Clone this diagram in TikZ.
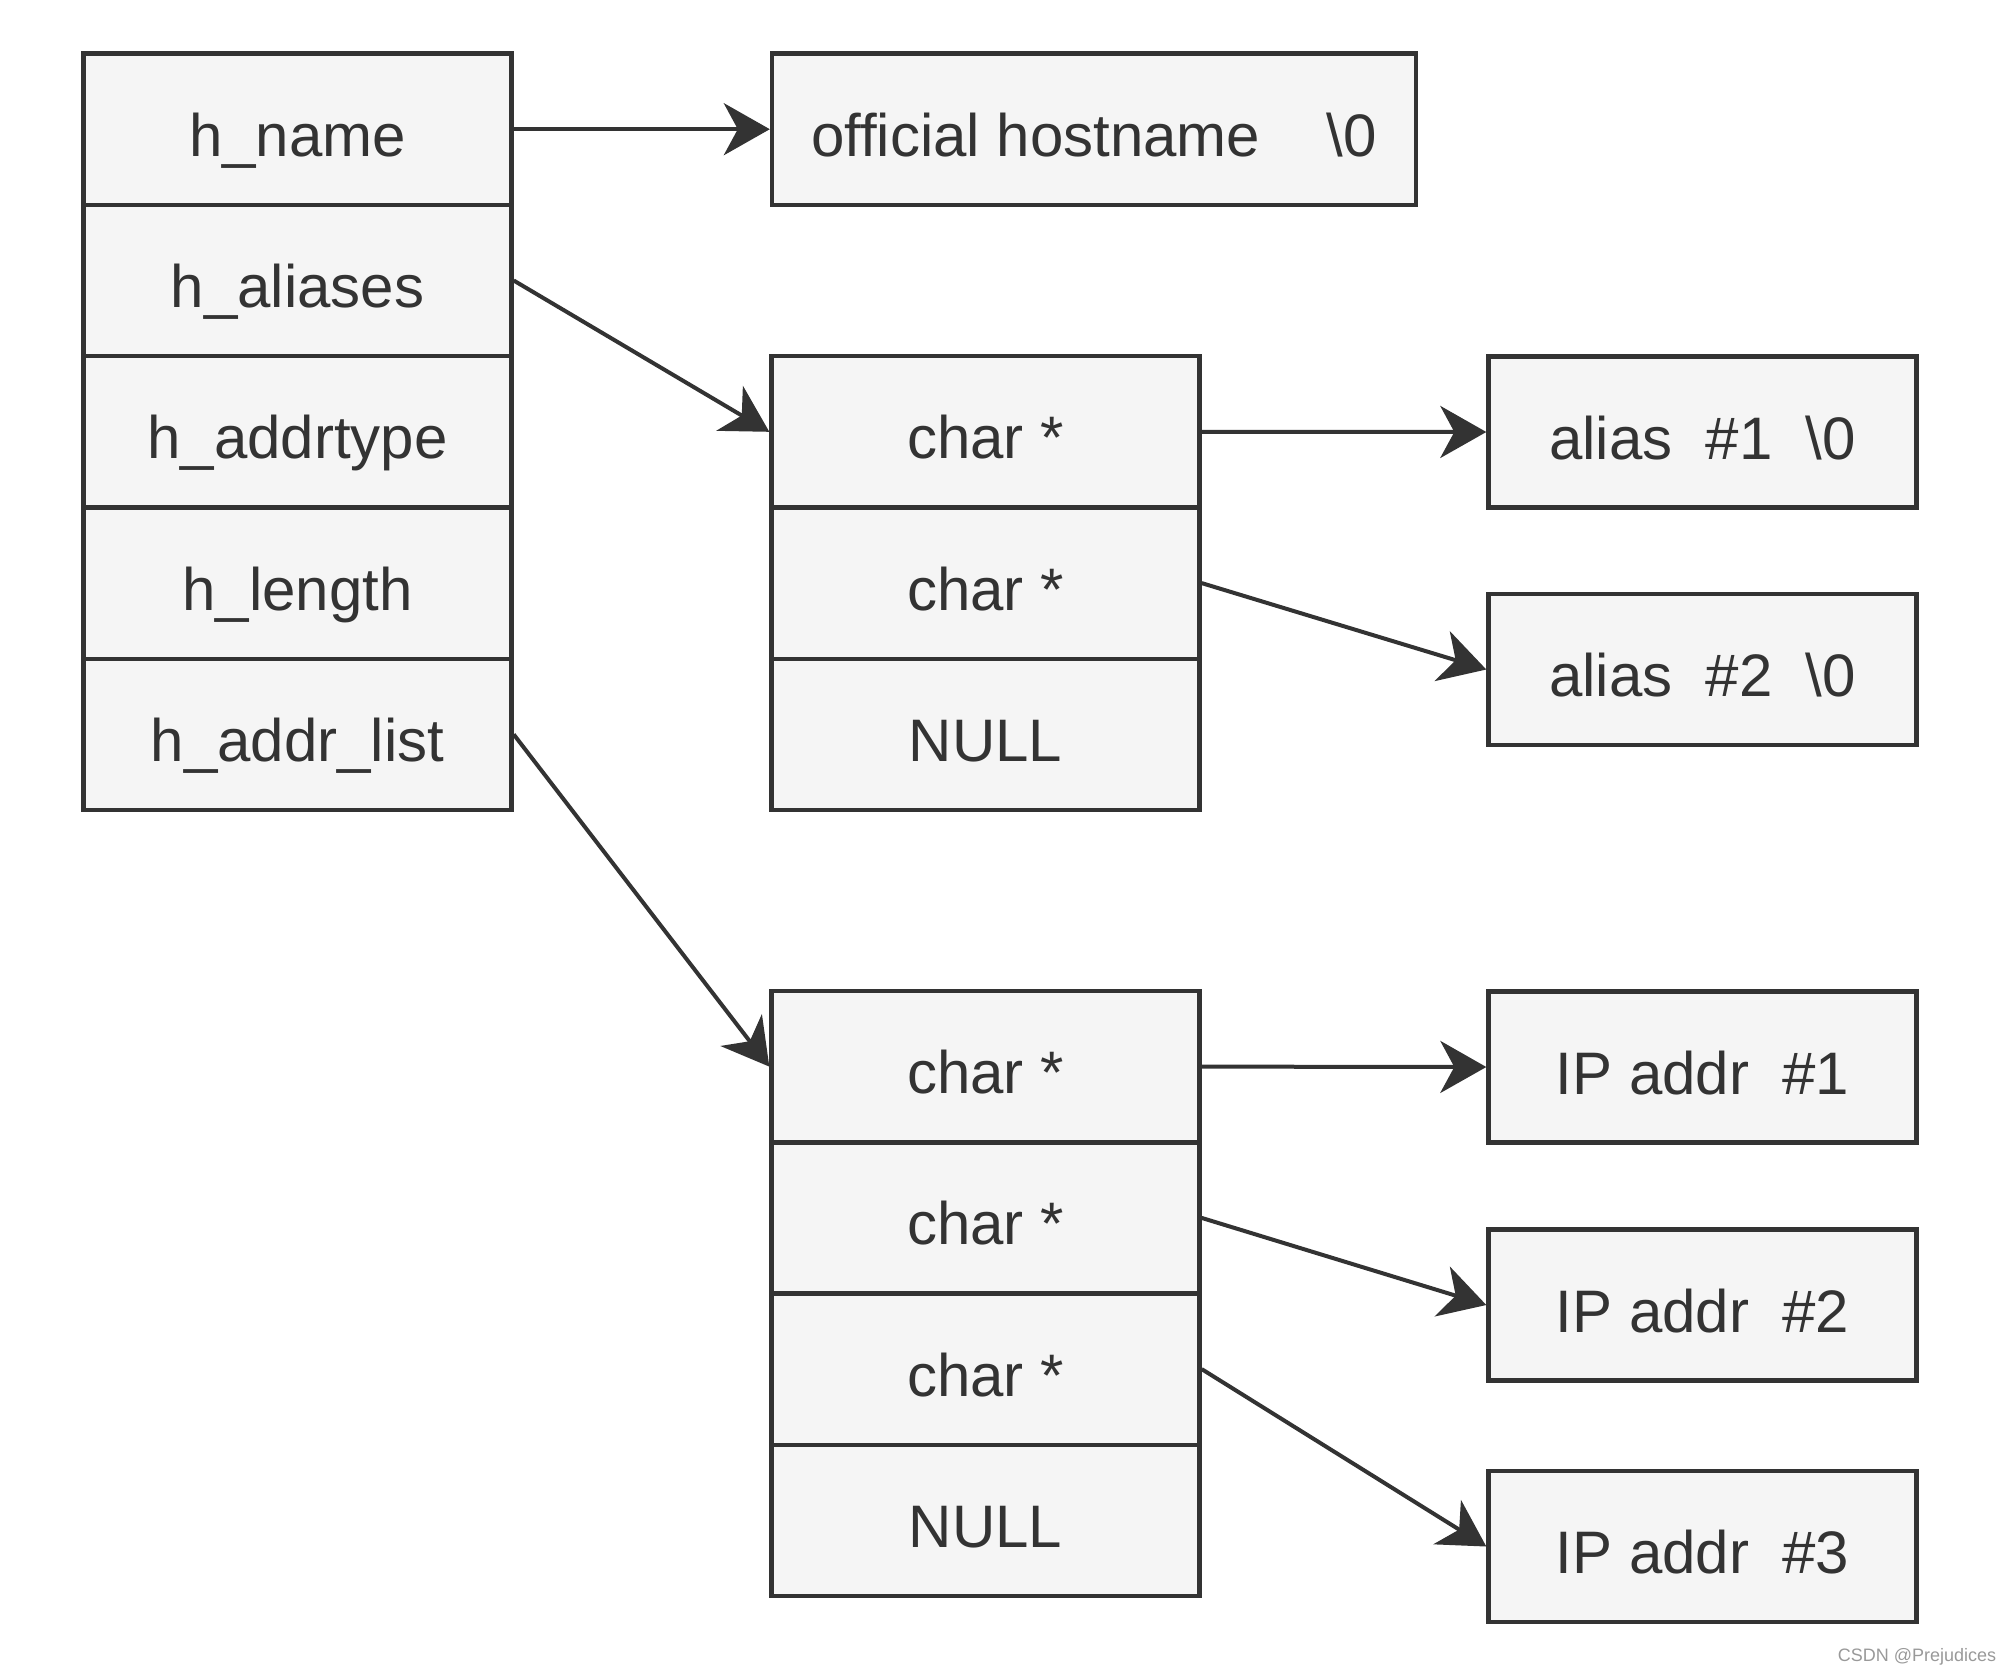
\documentclass[tikz,border=0pt]{standalone}
\usepackage{fontspec}
\setmainfont{Liberation Sans}
\usetikzlibrary{arrows.meta}

\definecolor{cellfill}{HTML}{F5F5F5}
\definecolor{ink}{HTML}{333333}

\tikzset{
  cell/.style={draw=ink, fill=cellfill, line width=2.2pt, inner sep=0pt,
    minimum width=214pt, minimum height=75.6pt, text=ink,
    text height=27.5pt, text depth=.5pt,
    font=\fontsize{30}{36}\selectfont},
  wide/.style={cell, minimum width=322pt},
  ptr/.style={draw=ink, line width=2pt,
    -{Stealth[length=23pt, width=26pt, inset=7pt]}}
}

\begin{document}
\begin{tikzpicture}[x=.5pt, y=-.5pt]

\useasboundingbox (0,0) rectangle (2000,1676);

% struct hostent
\node[cell] (hname)     at (297.5,129.2) {h\_name};
\node[cell] (haliases)  at (297.5,280.5) {h\_aliases};
\node[cell] (haddrtype) at (297.5,431.8) {h\_addrtype};
\node[cell] (hlength)   at (297.5,583.1) {h\_length};
\node[cell] (haddrlist) at (297.5,734.4) {h\_addr\_list};

\node[wide] (host) at (1094,129.2) {official hostname\ \ \ \ \textbackslash0};

% alias pointers
\node[cell] (al1)  at (985.5,431.8) {char *};
\node[cell] (al2)  at (985.5,583.1) {char *};
\node[cell] (alnull) at (985.5,734.4) {NULL};

\node[cell] (alias1) at (1702.5,432) {alias\ \ \#1\ \ \textbackslash0};
\node[cell] (alias2) at (1702.5,669.5) {alias\ \ \#2\ \ \textbackslash0};

% address pointers
\node[cell] (ad1) at (985.5,1066.6) {char *};
\node[cell] (ad2) at (985.5,1217.9) {char *};
\node[cell] (ad3) at (985.5,1369.1) {char *};
\node[cell] (adnull) at (985.5,1520.4) {NULL};

\node[cell] (ip1) at (1702.5,1067) {IP addr\ \ \#1};
\node[cell] (ip2) at (1702.5,1305) {IP addr\ \ \#2};
\node[cell] (ip3) at (1702.5,1546.5) {IP addr\ \ \#3};

\draw[ptr] (hname.east) -- (host.west);
\draw[ptr] (haliases.east) -- (al1.west);
\draw[ptr] (haddrlist.east) -- (ad1.west);

\draw[ptr] (al1.east) -- (alias1.west);
\draw[ptr] (al2.east) -- (alias2.west);

\draw[ptr] (ad1.east) -- (ip1.west);
\draw[ptr] (ad2.east) -- (ip2.west);
\draw[ptr] (ad3.east) -- (ip3.west);

\node[text=black!40, font=\fontsize{9}{11}\selectfont] (mark) at (1917,1657) {CSDN @Prejudices};

\end{tikzpicture}
\end{document}
